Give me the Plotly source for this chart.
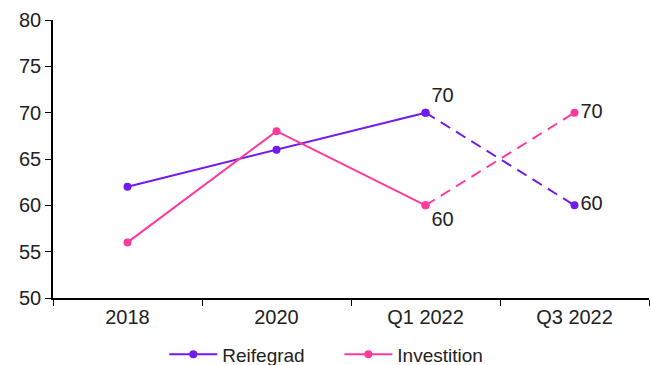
import plotly.graph_objects as go

categories = ["2018", "2020", "Q1 2022", "Q3 2022"]
reifegrad = [62, 66, 70, 60]
investition = [56, 68, 60, 70]

purple = "#7219ee"
pink = "#ff3a9e"
font_family = "Liberation Sans, Arial, sans-serif"

fig = go.Figure()


def add_series(name, values, color, label_pos):
    # solid segment for actual values (first three points)
    fig.add_trace(go.Scatter(
        x=categories[:3], y=values[:3], name=name, mode="lines+markers",
        line=dict(color=color, width=2), marker=dict(size=8, color=color),
        showlegend=True,
    ))
    # dashed segment for the outlook
    fig.add_trace(go.Scatter(
        x=categories[2:], y=values[2:], mode="lines+markers+text",
        line=dict(color=color, width=2, dash="11px,7px"),
        marker=dict(size=8, color=color),
        text=[str(v) for v in values[2:]], textposition=label_pos,
        textfont=dict(size=20, color="#222222", family=font_family),
        showlegend=False, hoverinfo="skip",
    ))


add_series("Reifegrad", reifegrad, purple, ["top right", "middle right"])
add_series("Investition", investition, pink, ["bottom right", "middle right"])

fig.update_layout(
    width=650, height=365,
    margin=dict(l=53, r=1, t=20, b=67),
    plot_bgcolor="white", paper_bgcolor="white",
    font=dict(family=font_family, size=19, color="#222222"),
    showlegend=True,
    legend=dict(orientation="h", xref="container", yref="container",
                x=0.522, xanchor="center", y=0.081, yanchor="top",
                font=dict(size=19), tracegroupgap=0, itemwidth=48,
                entrywidth=112, entrywidthmode="pixels"),
    xaxis=dict(
        type="category", categoryorder="array", categoryarray=categories,
        range=[-0.5, 3.5], showgrid=False, showline=True, linecolor="black", linewidth=1.5,
        ticks="outside", tickson="boundaries", ticklen=6, tickcolor="black",
        tickfont=dict(size=20),
    ),
    yaxis=dict(
        range=[50, 80], dtick=5, showgrid=False, showline=True, linecolor="black",
        linewidth=1.5, ticks="outside", ticklen=6, tickcolor="black",
        tickfont=dict(size=20), zeroline=False,
    ),
)

fig.write_html("out.html")
